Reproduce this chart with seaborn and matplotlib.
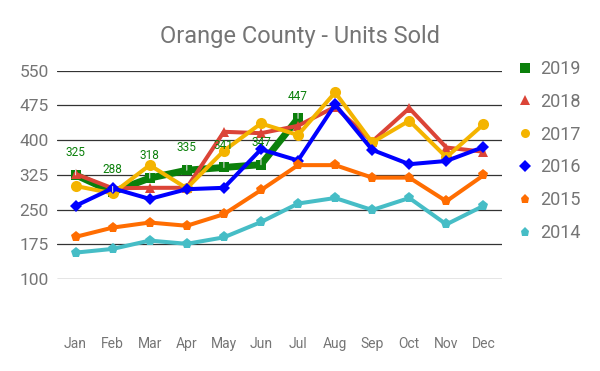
import matplotlib.pyplot as plt
from matplotlib.lines import Line2D
import seaborn as sns

# Dados
months = ['Jan', 'Feb', 'Mar', 'Apr', 'May', 'Jun', 'Jul', 'Aug', 'Sep', 'Oct', 'Nov', 'Dec']
y2019 = [325, 288, 318, 335, 341, 347, 447]
y2018 = [327, 296, 297, 297, 418, 415, 431, 472, 397, 469, 384, 375]
y2017 = [301, 285, 346, 296, 377, 436, 411, 503, 395, 442, 363, 434]
y2016 = [258, 296, 273, 294, 297, 380, 356, 477, 379, 348, 355, 385]
y2015 = [191, 211, 222, 215, 240, 292, 346, 346, 319, 319, 268, 324]
y2014 = [157, 165, 183, 176, 190, 223, 263, 275, 249, 275, 218, 258]
yticks = [100, 175, 250, 325, 400, 475, 550]

grey = '#757575'
sns.set_style('white')
plt.rcParams['font.family'] = ['Roboto', 'DejaVu Sans']

series = [
    ('2019', y2019, '#0b800b', 's', 5.0, 7.5),
    ('2018', y2018, '#db4437', '^', 2.9, 7.5),
    ('2017', y2017, '#f4b400', 'o', 2.9, 8),
    ('2016', y2016, '#0000ff', 'D', 2.9, 6.5),
    ('2015', y2015, '#ff6d01', 'p', 2.9, 8),
    ('2014', y2014, '#46bdc6', 'p', 2.9, 8),
]

fig = plt.figure(figsize=(6, 3.71), dpi=100)
ax = fig.add_axes([57 / 600, (371 - 279) / 371, 445 / 600, 208.3 / 371])

for name, vals, color, mk, lw, ms in series:
    sns.lineplot(x=list(range(len(vals))), y=vals, ax=ax, color=color, marker=mk,
                 linewidth=lw, markersize=ms, markeredgewidth=0, legend=False)

# rótulos de 2019
for i, v in enumerate(y2019):
    ax.annotate(str(v), xy=(i, v), xytext=(0, 16), textcoords='offset points',
                ha='center', va='center', fontsize=8.5, color='#0b800b',
                arrowprops=dict(arrowstyle='-', color='#dddddd', lw=0.8,
                                shrinkA=5, shrinkB=4))

ax.set_xlim(-0.5, 11.5)
ax.set_ylim(100, 550)
ax.set_xticks(range(12))
ax.set_xticklabels(months)
ax.set_yticks(yticks)
ax.tick_params(axis='x', length=0, pad=42, labelsize=10, labelcolor=grey)
ax.tick_params(axis='y', length=0, pad=6, labelsize=12.5, labelcolor=grey)
ax.grid(axis='y', color='#333333', linewidth=0.9)
ax.set_axisbelow(True)
sns.despine(ax=ax, left=True, bottom=True, top=True, right=True)
ax.set_xlabel('')
ax.set_ylabel('')

fig.text(0.5, 1 - 37 / 371, 'Orange County - Units Sold', ha='center', va='center',
         fontsize=17, color=grey)

handles = [Line2D([], [], linestyle='none', marker=mk, color=c, markersize=6.5,
                  markeredgewidth=0) for _, _, c, mk, _, _ in series]
labels = [s[0] for s in series]
fig.legend(handles, labels, loc='upper left', bbox_to_anchor=(520 / 600, 1 - 60 / 371),
           frameon=False, fontsize=13, labelcolor=grey, handlelength=0.6,
           handletextpad=0.5, labelspacing=0.82, borderaxespad=0, borderpad=0)

fig.savefig('out.png', dpi=100)
